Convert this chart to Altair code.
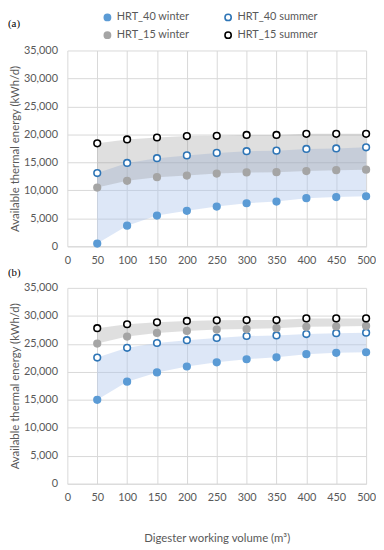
import altair as alt
import pandas as pd

volumes = [50, 100, 150, 200, 250, 300, 350, 400, 450, 500]
# legend order (column-major in the legend grid)
series = ["HRT_40 winter", "HRT_15 winter", "HRT_40 summer", "HRT_15 summer"]

# Panel (a)
a_hrt40_winter = [500, 3700, 5500, 6350, 7100, 7700, 8000, 8600, 8800, 8950]
a_hrt40_summer = [13100, 14900, 15750, 16250, 16700, 17000, 17100, 17400, 17500, 17700]
a_hrt15_winter = [10500, 11700, 12350, 12650, 13000, 13200, 13250, 13450, 13600, 13700]
a_hrt15_summer = [18400, 19100, 19450, 19700, 19750, 19900, 19900, 20100, 20100, 20100]

# Panel (b)
b_hrt40_winter = [15000, 18250, 19900, 20950, 21700, 22250, 22600, 23150, 23400, 23500]
b_hrt40_summer = [22550, 24300, 25150, 25650, 26050, 26400, 26500, 26750, 26900, 27000]
b_hrt15_winter = [25050, 26300, 26950, 27300, 27550, 27650, 27800, 28050, 28100, 28200]
b_hrt15_summer = [27800, 28500, 28850, 29100, 29200, 29250, 29250, 29550, 29550, 29550]

panels = {
    "a": {"HRT_40 winter": a_hrt40_winter, "HRT_40 summer": a_hrt40_summer,
          "HRT_15 winter": a_hrt15_winter, "HRT_15 summer": a_hrt15_summer},
    "b": {"HRT_40 winter": b_hrt40_winter, "HRT_40 summer": b_hrt40_summer,
          "HRT_15 winter": b_hrt15_winter, "HRT_15 summer": b_hrt15_summer},
}

pt_rows = []
area_rows = []
for p, vals in panels.items():
    for s, v in vals.items():
        for x, y in zip(volumes, v):
            pt_rows.append({"panel": p, "Volume": x, "Energy": y, "Series": s})
    for hrt in ["HRT_40", "HRT_15"]:
        lo, hi = vals[hrt + " winter"], vals[hrt + " summer"]
        for x, l, h in zip(volumes, lo, hi):
            area_rows.append({"panel": p, "Volume": x, "low": l, "high": h, "hrt": hrt})
pts = pd.DataFrame(pt_rows)
areas = pd.DataFrame(area_rows)

FONT = "Lato"
TXT = "#595959"
fill_range = ["#5B9BD5", "#A5A5A5", "#FFFFFF", "#FFFFFF"]
stroke_range = ["#5B9BD5", "#A5A5A5", "#2E75B6", "#000000"]


def panel(p, label, show_xtitle, label_y):
    x_enc = alt.X(
        "Volume:Q",
        scale=alt.Scale(domain=[0, 500], nice=False, zero=True),
        axis=alt.Axis(
            values=list(range(0, 501, 50)),
            title="Digester working volume (m³)" if show_xtitle else None,
            titlePadding=30, labelFlush=False,
        ),
    )
    y_axis = alt.Axis(values=list(range(0, 35001, 5000)), format=",.0f",
                      title="Available thermal energy (kWh/d)")
    y_scale = alt.Scale(domain=[0, 35000], nice=False)

    ad = areas[areas.panel == p]
    blue = alt.Chart(ad[ad.hrt == "HRT_40"]).mark_area(color="#A9C4EB", opacity=0.4).encode(
        x=x_enc, y=alt.Y("low:Q", scale=y_scale, axis=y_axis), y2="high:Q")
    gray = alt.Chart(ad[ad.hrt == "HRT_15"]).mark_area(color="#8C8C8C", opacity=0.28).encode(
        x=x_enc, y=alt.Y("low:Q", scale=y_scale, axis=y_axis), y2="high:Q")
    points = alt.Chart(pts[pts.panel == p]).mark_point(size=45, strokeWidth=1.6, opacity=1).encode(
        x=x_enc,
        y=alt.Y("Energy:Q", scale=y_scale, axis=y_axis),
        fill=alt.Fill("Series:N", scale=alt.Scale(domain=series, range=fill_range),
                      legend=alt.Legend(title=None)),
        stroke=alt.Stroke("Series:N", scale=alt.Scale(domain=series, range=stroke_range),
                          legend=alt.Legend(title=None)),
    )
    txt = alt.Chart(pd.DataFrame({"t": [label]})).mark_text(
        font="Liberation Serif", fontSize=11, color="#000000", align="left", baseline="middle"
    ).encode(text="t:N", x=alt.value(-60), y=alt.value(label_y))
    return alt.layer(blue, gray, points, txt).properties(width=302, height=198)


chart = alt.vconcat(
    panel("a", "(a)", False, -27),
    panel("b", "(b)", True, -15),
    spacing=2,
).resolve_scale(fill="shared", stroke="shared").properties(
    padding={"left": 0, "top": 1, "right": 0, "bottom": 0}
).configure_view(
    stroke=None
).configure_axis(
    labelFont=FONT, titleFont=FONT, labelFontSize=11, titleFontSize=11.5,
    labelColor=TXT, titleColor=TXT, titleFontWeight="normal",
    gridColor="#D9D9D9", domainColor="#D9D9D9", ticks=False, labelPadding=8,
).configure_axisY(
    domain=False, labelPadding=10, titlePadding=3,
).configure_legend(
    orient="none", legendX=35, legendY=-39, columns=2, symbolType="circle",
    labelFont=FONT, labelFontSize=11, labelColor=TXT, symbolSize=40,
    symbolStrokeWidth=1.6, columnPadding=32, rowPadding=5, labelLimit=200,
)

chart.save("out.html", embed_options={"renderer": "svg", "actions": False})
